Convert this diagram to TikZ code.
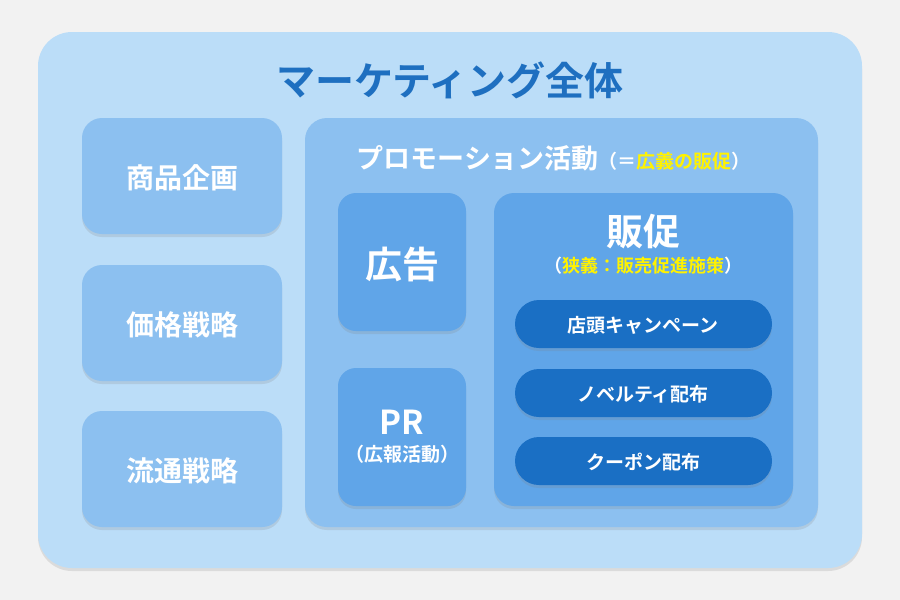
\documentclass[tikz,border=0pt]{standalone}
\usepackage{fontspec}
\setmainfont{Noto Sans CJK JP}[BoldFont={Noto Sans CJK JP Bold}]
\usetikzlibrary{shadows}
\definecolor{bg}{HTML}{F2F2F2}
\definecolor{outer}{HTML}{BBDDF8}
\definecolor{mid}{HTML}{8CC0F0}
\definecolor{inner}{HTML}{60A5E8}
\definecolor{pill}{HTML}{1A6FC4}
\definecolor{ttl}{HTML}{1E6FC0}
\definecolor{yel}{HTML}{FFF200}
\tikzset{
 box/.style={rounded corners=#1, drop shadow={shadow xshift=0pt,shadow yshift=-3pt,opacity=.2}},
 wt/.style={text=white,font=\bfseries}
}
\begin{document}
\begin{tikzpicture}[x=1pt,y=-1pt]
\fill[bg] (0,0) rectangle (900,600);
\fill[outer,box=34] (38,32) rectangle (862,568);
\node[text=ttl,font=\bfseries\fontsize{39}{42}\selectfont] (t) at (450,80) {マーケティング全体};
\foreach \y/\t/\n in {118/商品企画/a,265/価格戦略/b,411/流通戦略/c}{
 \fill[mid,box=20] (82,\y) rectangle (282,\y+116);
 \node[wt,font=\bfseries\fontsize{28}{32}\selectfont] (\n) at (182,\y+60) {\t};
}
\fill[mid,box=22] (305,118) rectangle (818,527);
\node[wt,font=\bfseries\fontsize{27}{30}\selectfont,anchor=west] (p) at (353,158) {プロモーション活動\fontsize{19}{22}\selectfont（＝\textcolor{yel}{広義の販促}）};
\fill[inner,box=18] (338,193) rectangle (466,331);
\node[wt,font=\bfseries\fontsize{37}{40}\selectfont] (ad) at (402,264) {広告};
\fill[inner,box=18] (338,368) rectangle (466,506);
\node[wt,font=\bfseries\fontsize{33}{36}\selectfont] (pr) at (402,422) {PR};
\node[wt,font=\bfseries\fontsize{19}{22}\selectfont] (prs) at (402,454) {（広報活動）};
\fill[inner,box=20] (494,193) rectangle (793,506);
\node[wt,font=\bfseries\fontsize{37}{40}\selectfont] (hs) at (643,232) {販促};
\node[wt,font=\bfseries\fontsize{18}{22}\selectfont] (hss) at (643,266) {（\textcolor{yel}{狭義：販売促進施策}）};
\foreach \y/\t/\n in {300/店頭キャンペーン/q1,369/ノベルティ配布/q2,437/クーポン配布/q3}{
 \fill[pill,box=24] (515,\y) rectangle (772,\y+48);
 \node[wt,font=\bfseries\fontsize{19}{22}\selectfont] (\n) at (643,\y+25) {\t};
}
\end{tikzpicture}
\end{document}
